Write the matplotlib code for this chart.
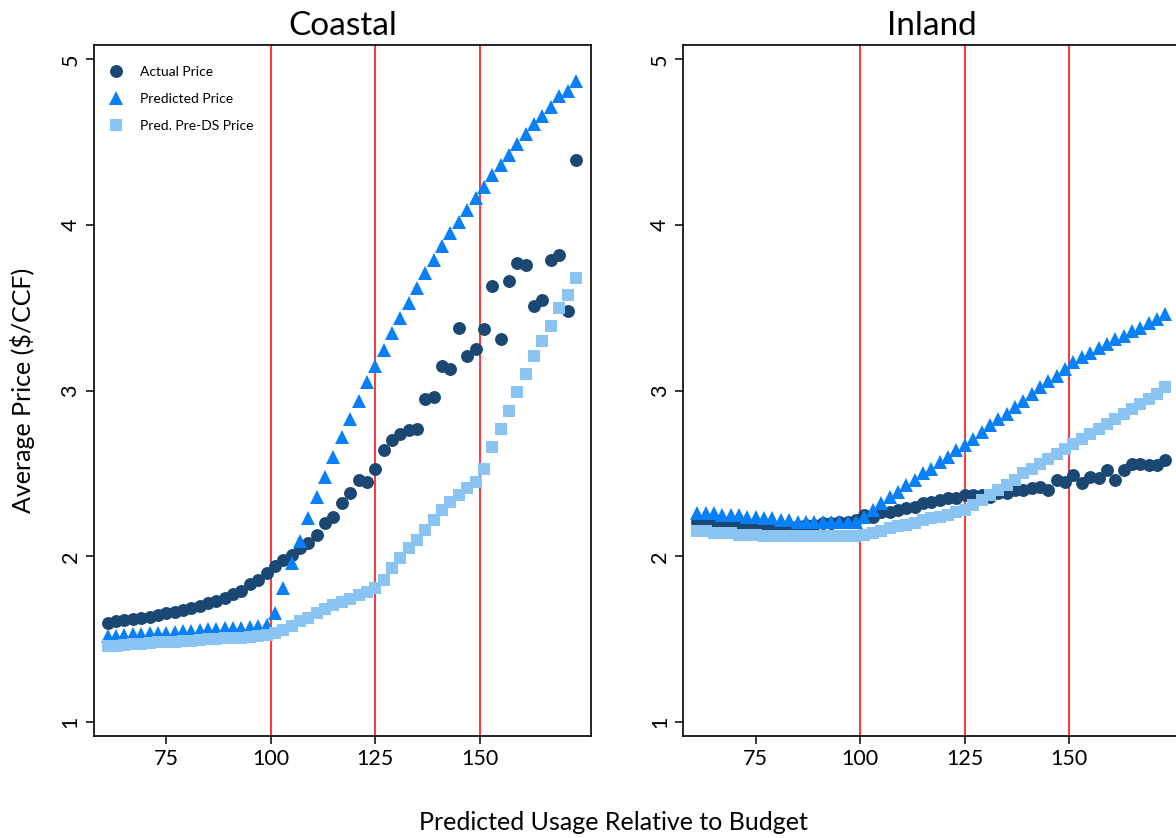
import matplotlib
matplotlib.use("Agg")
import matplotlib.pyplot as plt

plt.rcParams['font.family'] = ['Lato', 'DejaVu Sans']

# predicted usage relative to budget (bin centres)
usage = list(range(61, 175, 2))

coastal_actual = [1.60, 1.61, 1.615, 1.62, 1.63, 1.635, 1.645, 1.656, 1.666, 1.676,
                  1.69, 1.70, 1.716, 1.73, 1.75, 1.77, 1.79, 1.83, 1.86, 1.90,
                  1.94, 1.98, 2.01, 2.05, 2.08, 2.13, 2.20, 2.24, 2.32, 2.38,
                  2.46, 2.45, 2.53, 2.64, 2.70, 2.74, 2.76, 2.77, 2.95, 2.96,
                  3.15, 3.13, 3.38, 3.21, 3.25, 3.37, 3.63, 3.31, 3.66, 3.77,
                  3.76, 3.51, 3.55, 3.79, 3.82, 3.48, 4.39]
coastal_pred = [1.52, 1.52, 1.525, 1.53, 1.53, 1.535, 1.54, 1.54, 1.545, 1.55,
                1.55, 1.555, 1.56, 1.56, 1.565, 1.57, 1.57, 1.575, 1.58, 1.585,
                1.66, 1.81, 1.96, 2.09, 2.23, 2.36, 2.48, 2.60, 2.72, 2.83,
                2.94, 3.05, 3.15, 3.245, 3.35, 3.44, 3.53, 3.62, 3.71, 3.79,
                3.87, 3.95, 4.02, 4.09, 4.16, 4.23, 4.30, 4.36, 4.42, 4.49,
                4.55, 4.61, 4.66, 4.71, 4.78, 4.81, 4.87]
coastal_preds = [1.46, 1.46, 1.465, 1.47, 1.47, 1.475, 1.48, 1.48, 1.485, 1.49,
                 1.49, 1.495, 1.50, 1.50, 1.505, 1.51, 1.51, 1.515, 1.52, 1.525,
                 1.54, 1.555, 1.58, 1.61, 1.63, 1.655, 1.68, 1.705, 1.725, 1.745,
                 1.765, 1.785, 1.81, 1.86, 1.93, 1.99, 2.05, 2.10, 2.16, 2.22,
                 2.28, 2.33, 2.37, 2.41, 2.45, 2.53, 2.66, 2.77, 2.88, 2.99,
                 3.10, 3.21, 3.30, 3.39, 3.50, 3.58, 3.68]

inland_actual = [2.21, 2.21, 2.21, 2.20, 2.20, 2.20, 2.19, 2.19, 2.19, 2.18,
                 2.18, 2.18, 2.18, 2.19, 2.19, 2.20, 2.20, 2.21, 2.21, 2.22,
                 2.25, 2.24, 2.27, 2.27, 2.28, 2.29, 2.30, 2.32, 2.33, 2.34,
                 2.35, 2.35, 2.37, 2.37, 2.37, 2.36, 2.38, 2.38, 2.40, 2.40,
                 2.41, 2.42, 2.40, 2.46, 2.45, 2.49, 2.44, 2.48, 2.47, 2.52,
                 2.46, 2.52, 2.56, 2.56, 2.55, 2.55, 2.58]
inland_pred = [2.26, 2.26, 2.26, 2.25, 2.25, 2.25, 2.24, 2.24, 2.23, 2.23,
               2.22, 2.22, 2.21, 2.21, 2.21, 2.21, 2.21, 2.21, 2.21, 2.21,
               2.24, 2.28, 2.32, 2.36, 2.39, 2.43, 2.46, 2.50, 2.53, 2.57,
               2.60, 2.64, 2.67, 2.71, 2.75, 2.79, 2.83, 2.86, 2.90, 2.94,
               2.98, 3.02, 3.06, 3.09, 3.13, 3.17, 3.20, 3.23, 3.26, 3.28,
               3.31, 3.33, 3.36, 3.38, 3.41, 3.43, 3.46]
inland_preds = [2.15, 2.15, 2.14, 2.14, 2.14, 2.13, 2.13, 2.13, 2.12, 2.12,
                2.12, 2.12, 2.12, 2.12, 2.12, 2.12, 2.12, 2.12, 2.12, 2.12,
                2.13, 2.14, 2.15, 2.17, 2.18, 2.19, 2.20, 2.22, 2.23, 2.24,
                2.25, 2.27, 2.28, 2.31, 2.34, 2.37, 2.40, 2.43, 2.46, 2.50,
                2.53, 2.56, 2.59, 2.62, 2.65, 2.68, 2.71, 2.74, 2.77, 2.80,
                2.83, 2.86, 2.89, 2.92, 2.95, 2.98, 3.02]

thresholds = [100, 125, 150]
x_ticks = [75, 100, 125, 150]
y_ticks = [1, 2, 3, 4, 5]

DARK = '#1b4872'
MID = '#0a80f8'
LIGHT = '#8ac4f3'


def draw_panel(ax, title, actual, pred, preds, legend=False):
    for t in thresholds:
        ax.axvline(t, color='red', lw=1.1, zorder=1)
    ax.plot(usage, actual, 'o', color=DARK, ms=9.3, mew=0, label='Actual Price', zorder=3)
    ax.plot(usage, pred, '^', color=MID, ms=10, mew=0, label='Predicted Price', zorder=4)
    ax.plot(usage, preds, 's', color=LIGHT, ms=8.6, mew=0, label='Pred. Pre-DS Price', zorder=5)
    ax.set_xlim(57.65, 176.6)
    ax.set_ylim(0.9155, 5.086)
    ax.set_xticks(x_ticks)
    ax.set_yticks(y_ticks)
    ax.tick_params(direction='out', length=5.5, width=1.1, labelsize=15.5, pad=4)
    ax.tick_params(axis='y', labelrotation=90)
    for lbl in ax.get_yticklabels():
        lbl.set_verticalalignment('center')
    for s in ax.spines.values():
        s.set_linewidth(1.2)
    ax.set_title(title, fontsize=24, pad=7)
    if legend:
        ax.legend(loc='upper left', bbox_to_anchor=(0.0163, 0.978), frameon=False,
                  fontsize=10, labelspacing=1.1, handletextpad=1.13,
                  borderaxespad=0, borderpad=0.4, handlelength=1.2)


fig = plt.figure(figsize=(11.76, 8.38), dpi=100)
ax1 = fig.add_axes([0.0797, 0.1217, 0.4228, 0.8246])
ax2 = fig.add_axes([0.581, 0.1217, 0.4228, 0.8246])

draw_panel(ax1, 'Coastal', coastal_actual, coastal_pred, coastal_preds, legend=True)
draw_panel(ax2, 'Inland', inland_actual, inland_pred, inland_preds)

fig.text(0.019, 0.534, 'Average Price ($/CCF)', rotation=90, fontsize=18,
         ha='center', va='center')
fig.text(0.522, 0.019, 'Predicted Usage Relative to Budget', fontsize=18,
         ha='center', va='center')

fig.savefig('out.png', dpi=100)
